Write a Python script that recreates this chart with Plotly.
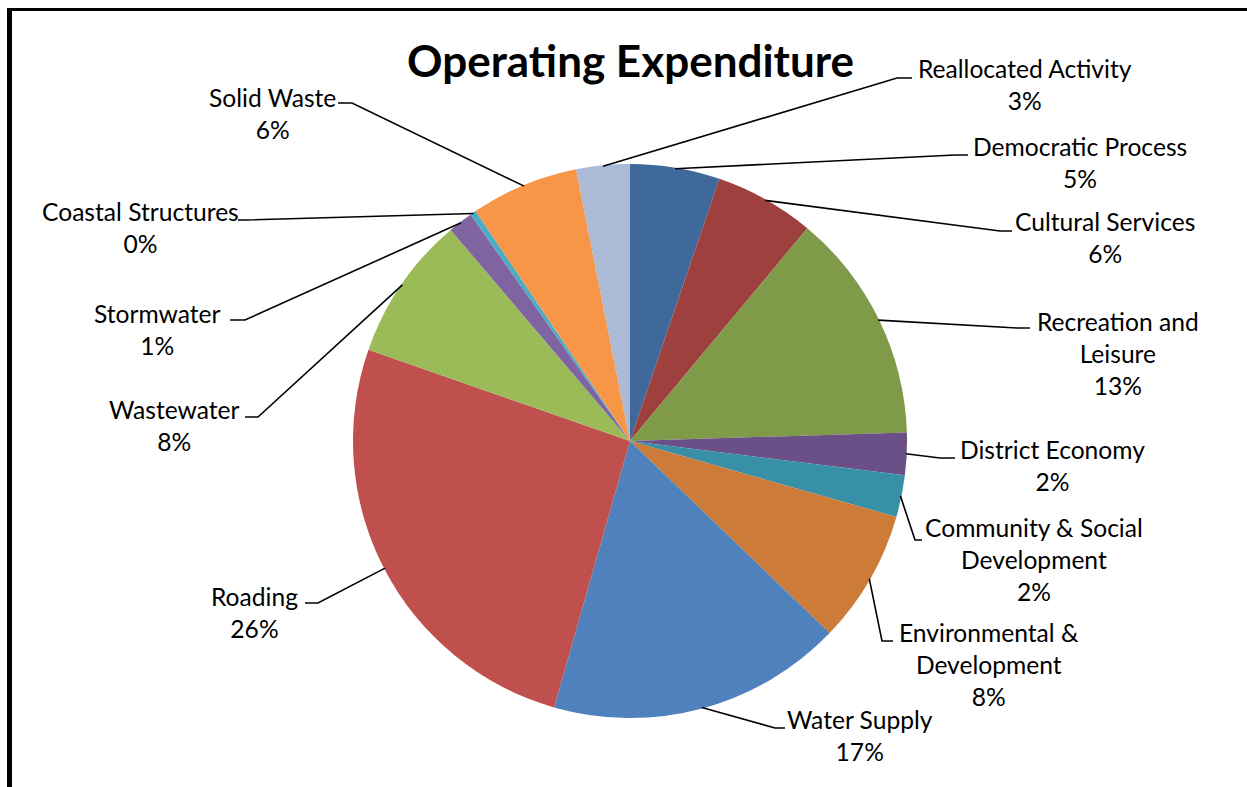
import math
import plotly.graph_objects as go

# Operating expenditure by activity (share of total, %), clockwise from 12 o'clock
categories = [
    "Democratic Process", "Cultural Services", "Recreation and Leisure",
    "District Economy", "Community & Social Development",
    "Environmental & Development", "Water Supply", "Roading", "Wastewater",
    "Stormwater", "Coastal Structures", "Solid Waste", "Reallocated Activity",
]
shares = [5.23, 5.83, 13.45, 2.46, 2.45, 7.77, 17.23, 25.92, 8.45, 1.45, 0.35, 6.29, 3.12]

# Wrapped label text
label_lines = [
    "Democratic Process", "Cultural Services", "Recreation and<br>Leisure",
    "District Economy", "Community & Social<br>Development",
    "Environmental &<br>Development", "Water Supply", "Roading", "Wastewater",
    "Stormwater", "Coastal Structures", "Solid Waste", "Reallocated Activity",
]

colors = [
    "#3F699A", "#9E413E", "#7F9A48", "#6B5088", "#3890A6", "#CD7B38",
    "#4F81BD", "#C0504D", "#9BBB59", "#8064A2", "#4BACC6", "#F79646", "#AABAD7",
]

W, H = 1247, 787
CX, CY, R = 630, 441, 277  # pie centre and radius in pixels
LINE_H = 32

# label placement: text centre x, first-line centre y, elbow point, tail point
label_layout = [
    (1080, 147, (955, 155), (968, 155)),
    (1105, 221, (1000, 231), (1012, 231)),
    (1118, 321, (1017, 328), (1030, 328)),
    (1052, 449, (940, 458), (955, 458)),
    (1034, 527, (915, 540), (922, 540)),
    (989, 632, (882, 641), (893, 641)),
    (860, 719, (775, 728), (785, 728)),
    (254, 596, (318, 603), (305, 603)),
    (174, 409, (258, 417), (245, 417)),
    (157, 313, (245, 320), (230, 320)),
    (140, 212, (245, 220), (238, 220)),
    (272, 97, (352, 103), (338, 103)),
    (1025, 69, (897, 78), (912, 78)),
]

FONT = "Lato, 'Open Sans', sans-serif"


def px(x):
    return x / W


def py(y):
    return 1 - y / H


fig = go.Figure()
fig.add_trace(go.Pie(
    labels=categories,
    values=shares,
    sort=False,
    direction="clockwise",
    rotation=0,
    textinfo="none",
    hoverinfo="label+percent",
    marker=dict(colors=colors, line=dict(width=0)),
    domain=dict(x=[px(CX - R), px(CX + R)], y=[py(CY + R), py(CY - R)]),
    showlegend=False,
))

total = sum(shares)
shapes = []
annotations = []
cum = 0.0
for name, text, v, (tx, ty, elbow, tail) in zip(categories, label_lines, shares, label_layout):
    mid = (cum + v / 2) / total * 2 * math.pi
    cum += v
    ex = CX + (R - 1) * math.sin(mid)
    ey = CY - (R - 1) * math.cos(mid)
    shapes.append(dict(
        type="path", xref="paper", yref="paper",
        path=f"M {px(ex)},{py(ey)} L {px(elbow[0])},{py(elbow[1])} L {px(tail[0])},{py(tail[1])}",
        line=dict(color="black", width=1.6),
    ))
    n_lines = text.count("<br>") + 2
    annotations.append(dict(
        x=px(tx), y=py(ty + (n_lines - 1) * LINE_H / 2), xref="paper", yref="paper",
        text=f"{text}<br>{v / total:.0%}", showarrow=False,
        xanchor="center", yanchor="middle", align="center",
        font=dict(family=FONT, size=24.6, color="black"),
    ))

annotations.append(dict(
    x=px(630), y=py(60), xref="paper", yref="paper",
    text="<b>Operating Expenditure</b>", showarrow=False,
    xanchor="center", yanchor="middle",
    font=dict(family=FONT, size=44, color="black"),
))

# chart frame (top and left edges)
shapes.append(dict(type="rect", xref="paper", yref="paper",
                   x0=px(7), x1=px(W), y0=py(11), y1=py(8),
                   fillcolor="black", line=dict(width=0)))
shapes.append(dict(type="rect", xref="paper", yref="paper",
                   x0=px(7), x1=px(12), y0=py(H), y1=py(8),
                   fillcolor="black", line=dict(width=0)))

fig.update_layout(
    width=W, height=H, autosize=False,
    margin=dict(l=0, r=0, t=0, b=0),
    paper_bgcolor="white", plot_bgcolor="white",
    shapes=shapes, annotations=annotations,
)

fig.write_html("out.html")
